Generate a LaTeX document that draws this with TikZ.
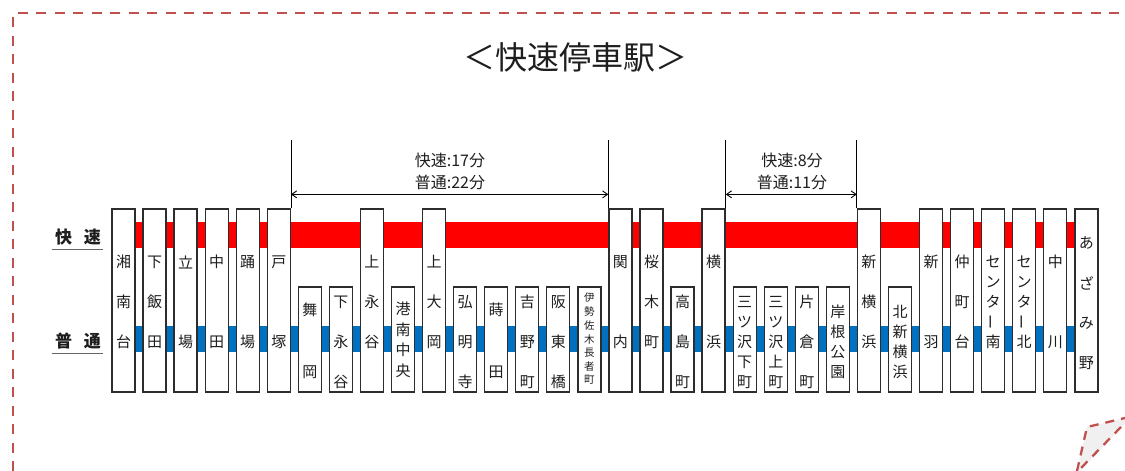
\documentclass[tikz,border=0pt]{standalone}
\usepackage{fontspec}
\setmainfont{Noto Sans CJK JP}
\usetikzlibrary{arrows.meta}
\definecolor{bordercol}{RGB}{192,80,77}
\definecolor{rapid}{RGB}{255,0,0}
\definecolor{localc}{RGB}{0,112,192}
\definecolor{boxline}{RGB}{45,45,45}
\definecolor{txt}{RGB}{30,30,30}
\newcommand\stationbox[6]{%
 \pgfmathsetmacro\cx{123.5+#1*31.06}%
 \pgfmathsetmacro\cy{(#2+392)/2}%
 \pgfmathsetmacro\bh{392-#2}%
 \node[stnbox, minimum height=\bh pt] (s#1) at (\cx,\cy) {};%
 \foreach \c [count=\k from 0] in {#6} {%
   \node[stnchar, font=\fontsize{#5}{#5}\selectfont] (s#1c\k) at (\cx,{#3+\k*#4}) {\c};}%
}
\newcommand\vbar{\rotatebox{90}{ー}}
\begin{document}
\begin{tikzpicture}[x=1pt,y=-1pt,
 stnbox/.style={draw=boxline, line width=1.3pt, fill=white, minimum width=23pt, inner sep=0pt},
 stnchar/.style={inner sep=0pt, text=txt},
 dimline/.style={draw=black, line width=0.9pt},
 dimarrow/.style={draw=black, line width=0.9pt, {Straight Barb[length=5pt,width=7pt]}-{Straight Barb[length=5pt,width=7pt]}},
 dimtext/.style={inner sep=0pt, text=txt, font=\fontsize{16}{16}\selectfont},
 sidelabel/.style={inner sep=0pt, text=txt, font=\fontsize{17}{17}\selectfont\bfseries},
 uline/.style={draw=gray!80!black, line width=1.5pt}
]
\useasboundingbox (0,0) rectangle (1125,471);
% border
\draw[bordercol, line width=2.3pt, dash pattern=on 10pt off 8.5pt] (13,471) -- (13,13) -- (1125,13);
% folded corner
\fill[gray!12] (1087,427) -- (1125,418) -- (1125,424) -- (1080,471) -- (1077,471) -- cycle;
\draw[bordercol, line width=2.3pt, dash pattern=on 9pt off 7pt] (1077,471) -- (1087,427) -- (1125,418);
\draw[bordercol, line width=2.3pt, dash pattern=on 9pt off 7pt] (1121,427) -- (1080,469);
% title
\node[inner sep=0pt, text=txt, font=\fontsize{32}{32}\selectfont] (title) at (575,57) {＜快速停車駅＞};
% bands
\fill[rapid] (135,222) rectangle (1075,248);
\fill[localc] (135,326) rectangle (1075,352);
% side labels
\node[sidelabel] (kaisoku) at (78,237) {快\hspace{12pt}速};
\draw[uline] ([xshift=-3pt,yshift=-4pt]kaisoku.south west) -- ([xshift=2pt,yshift=-4pt]kaisoku.south east);
\node[sidelabel] (futsu) at (78,341) {普\hspace{12pt}通};
\draw[uline] ([xshift=-3pt,yshift=-4pt]futsu.south west) -- ([xshift=2pt,yshift=-4pt]futsu.south east);
% stations
\stationbox{0}{209}{262}{40}{15}{湘,南,台}
\stationbox{1}{209}{262}{40}{15}{下,飯,田}
\stationbox{2}{209}{262}{80}{15}{立,場}
\stationbox{3}{209}{262}{80}{15}{中,田}
\stationbox{4}{209}{262}{80}{15}{踊,場}
\stationbox{5}{209}{262}{80}{15}{戸,塚}
\stationbox{6}{287}{310}{62}{15}{舞,岡}
\stationbox{7}{287}{302}{40}{15}{下,永,谷}
\stationbox{8}{209}{262}{40}{15}{上,永,谷}
\stationbox{9}{287}{309}{20.5}{15}{港,南,中,央}
\stationbox{10}{209}{262}{40}{15}{上,大,岡}
\stationbox{11}{287}{302}{40}{15}{弘,明,寺}
\stationbox{12}{287}{310}{62}{15}{蒔,田}
\stationbox{13}{287}{302}{40}{15}{吉,野,町}
\stationbox{14}{287}{302}{40}{15}{阪,東,橋}
\stationbox{15}{287}{298}{13.7}{10.5}{伊,勢,佐,木,長,者,町}
\stationbox{16}{209}{262}{80}{15}{関,内}
\stationbox{17}{209}{262}{40}{15}{桜,木,町}
\stationbox{18}{287}{302}{40}{15}{高,島,町}
\stationbox{19}{209}{262}{80}{15}{横,浜}
\stationbox{20}{287}{302}{20}{15}{三,ツ,沢,下,町}
\stationbox{21}{287}{302}{20}{15}{三,ツ,沢,上,町}
\stationbox{22}{287}{302}{40}{15}{片,倉,町}
\stationbox{23}{287}{312}{20}{15}{岸,根,公,園}
\stationbox{24}{209}{262}{40}{15}{新,横,浜}
\stationbox{25}{287}{312}{20}{15}{北,新,横,浜}
\stationbox{26}{209}{262}{80}{15}{新,羽}
\stationbox{27}{209}{262}{40}{15}{仲,町,台}
\stationbox{28}{209}{262}{20}{15}{セ,ン,タ,\vbar,南}
\stationbox{29}{209}{262}{20}{15}{セ,ン,タ,\vbar,北}
\stationbox{30}{209}{262}{80}{15}{中,川}
\stationbox{31}{209}{243}{40}{15}{あ,ざ,み,野}
% dimension 1
\draw[dimline] (s5.north east) -- ([yshift=68pt]s5.north east);
\draw[dimline] (s16.north west) -- ([yshift=68pt]s16.north west);
\draw[dimarrow] ([yshift=14pt]s5.north east) -- ([yshift=14pt]s16.north west);
\node[dimtext] (d1a) at (450,160) {快速:17分};
\node[dimtext] (d1b) at (450,182) {普通:22分};
% dimension 2
\draw[dimline] (s19.north east) -- ([yshift=68pt]s19.north east);
\draw[dimline] (s24.north west) -- ([yshift=68pt]s24.north west);
\draw[dimarrow] ([yshift=14pt]s19.north east) -- ([yshift=14pt]s24.north west);
\node[dimtext] (d2a) at (792,160) {快速:8分};
\node[dimtext] (d2b) at (792,182) {普通:11分};
\end{tikzpicture}
\end{document}
